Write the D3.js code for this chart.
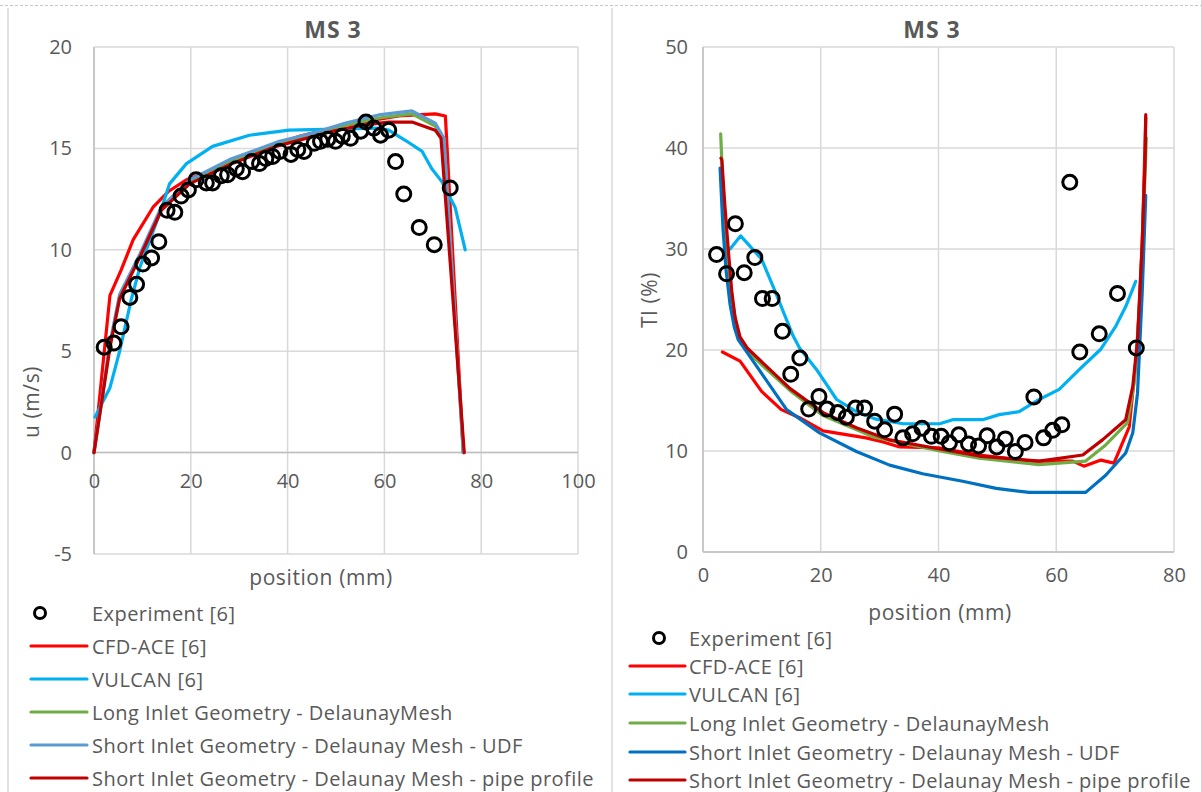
<!DOCTYPE html>
<html>
<head>
<meta charset="utf-8">
<script src="https://cdn.jsdelivr.net/npm/d3@7"></script>
<style>
  html, body { margin: 0; padding: 0; background: #fff; }
  svg { display: block; }
  text { font-family: "Open Sans", "Liberation Sans", sans-serif; fill: #595959; }
</style>
</head>
<body>
<svg id="chart" width="1201" height="792"></svg>
<script>
// ---------------- DATA ----------------
const seriesNames = [
  "Experiment [6]",
  "CFD-ACE [6]",
  "VULCAN [6]",
  "Long Inlet Geometry - DelaunayMesh",
  "Short Inlet Geometry - Delaunay Mesh - UDF",
  "Short Inlet Geometry - Delaunay Mesh - pipe profile"
];
const chartTitle = "MS 3";
const leftXTicks = [0, 20, 40, 60, 80, 100];
const leftYTicks = [-5, 0, 5, 10, 15, 20];
const rightXTicks = [0, 20, 40, 60, 80];
const rightYTicks = [0, 10, 20, 30, 40, 50];

// Left chart: u (m/s) vs position (mm)
const uExperiment = [
  [2.1,5.2],[4.1,5.4],[5.6,6.2],[7.4,7.65],[8.8,8.3],[10.1,9.3],[11.9,9.6],[13.4,10.4],
  [15.1,11.95],[16.7,11.85],[18.0,12.65],[19.5,12.95],[21.1,13.45],[23.2,13.3],[24.5,13.3],
  [26.3,13.65],[27.6,13.7],[29.4,14.0],[30.7,13.85],[32.6,14.35],[34.2,14.25],[35.5,14.5],
  [36.9,14.6],[38.4,14.85],[40.7,14.7],[42.1,14.95],[43.4,14.85],[45.5,15.25],[46.8,15.35],
  [48.3,15.45],[49.9,15.35],[51.3,15.6],[53.0,15.5],[55.1,15.85],[56.2,16.3],[57.8,16.0],
  [59.2,15.65],[60.9,15.9],[62.3,14.35],[64.0,12.75],[67.2,11.1],[70.3,10.25],[73.6,13.05]
];
const uCfdAce = [
  [0,0],[3.3,7.75],[5.6,9.0],[8.1,10.5],[12.2,12.1],[15.5,12.9],[19.1,13.45],[26.6,14.1],
  [34.8,14.9],[42.4,15.6],[52.7,16.2],[63,16.6],[70.5,16.7],[72.6,16.6],[76.3,0]
];
const uVulcan = [
  [0.2,1.75],[3.3,3.2],[5.3,5.0],[7.75,7.6],[9.5,9.15],[13.6,11.8],[15.6,13.25],[19.1,14.25],
  [24.5,15.1],[32.1,15.65],[40.3,15.9],[50,15.95],[58.8,16.0],[60.9,15.9],[64.3,15.4],
  [67.8,14.85],[69.8,14.0],[71.9,13.35],[74.6,12.1],[76.7,10.0]
];
const uLongInlet = [
  [0,0],[3.3,5.3],[5.3,7.7],[9.5,9.7],[13.9,12.0],[19.75,13.35],[28,14.35],[38.3,15.25],
  [45.1,15.65],[52,16.15],[58.8,16.5],[65.7,16.7],[70.5,16.1],[72.3,15.5],[76.3,0]
];
const uShortUdf = [
  [0,0],[3.3,5.4],[5.3,7.8],[9.5,9.8],[13.9,12.1],[19.75,13.45],[28,14.45],[38.3,15.35],
  [45.1,15.75],[52,16.25],[58.8,16.65],[65.7,16.85],[70.5,16.25],[72.3,15.5],[76.3,0]
];
const uShortPipe = [
  [0,0],[3.3,5.2],[5.3,7.6],[9.5,9.65],[13.9,11.95],[19.75,13.25],[28,14.2],[37.6,15.1],
  [48.6,15.8],[55.4,16.15],[60.9,16.3],[65.7,16.3],[70.5,15.9],[71.7,15.5],[76.5,0]
];

// Right chart: TI (%) vs position (mm)
const tiExperiment = [
  [2.3,29.45],[4.0,27.55],[5.5,32.5],[7.0,27.65],[8.8,29.15],[10.1,25.1],[11.75,25.1],
  [13.5,21.85],[14.9,17.6],[16.45,19.2],[17.95,14.15],[19.7,15.4],[21.05,14.15],[22.9,13.8],
  [24.35,13.35],[25.9,14.25],[27.45,14.25],[29.15,12.95],[30.85,12.1],[32.55,13.65],
  [33.95,11.3],[35.6,11.7],[37.2,12.25],[38.8,11.45],[40.45,11.45],[41.85,10.8],[43.45,11.6],
  [45.1,10.7],[46.8,10.5],[48.25,11.5],[49.9,10.4],[51.35,11.2],[53.05,9.95],[54.7,10.85],
  [56.2,15.35],[57.85,11.3],[59.4,12.05],[60.95,12.6],[62.3,36.6],[64.0,19.8],[67.3,21.6],
  [70.4,25.6],[73.6,20.2]
];
const tiCfdAce = [
  [3.3,19.8],[6.3,18.9],[9.95,15.9],[13.3,14.1],[16.4,13.3],[20.4,12.0],[27.7,11.3],
  [30.6,10.9],[33.4,10.4],[40.2,10.3],[47,9.6],[55.4,9.0],[62.8,9.0],[64.7,8.5],[67.6,9.1],
  [69.8,8.8],[72.4,12.4],[73.8,20.5],[74.6,30.5],[75.2,43.0]
];
const tiVulcan = [
  [4.6,30.0],[6.4,31.3],[9.95,29.0],[11.9,26.3],[15.3,21.4],[16.4,20.2],[19.3,18.05],
  [22.7,15.1],[26.05,13.9],[29.4,13.15],[34,12.7],[40.2,12.7],[42.4,13.1],[47.5,13.1],
  [50.3,13.6],[53.7,13.9],[57.1,15.1],[60.5,16.1],[63.9,18.05],[67.6,20.1],[70.1,22.35],
  [71.8,24.3],[73.5,26.8]
];
const tiLongInlet = [
  [3.0,41.4],[3.4,36],[3.8,31],[4.4,28],[4.9,25.2],[5.5,23.0],[6.3,21.1],[7.5,19.9],
  [10.2,18.4],[14.75,16.0],[20.4,13.5],[28.9,11.4],[40.2,10.0],[46.9,9.3],[57.1,8.65],
  [65.0,9.0],[68.4,10.6],[72.1,12.8],[73.3,17],[74.2,25],[74.8,33],[75.3,41]
];
const tiShortUdf = [
  [2.9,38.0],[3.4,32],[3.9,28],[4.6,24.5],[5.3,22.3],[6.0,21.0],[9.1,18.4],[14.2,14.1],
  [19.8,11.8],[26.05,9.95],[31.7,8.6],[37.3,7.75],[44.1,7.0],[49.8,6.3],[55.4,5.9],
  [65.0,5.9],[68.4,7.6],[71.8,9.8],[73.0,11.8],[73.8,15.7],[74.6,25.7],[75.2,35.3]
];
const tiShortPipe = [
  [3.05,39.0],[3.2,38.8],[3.73,34.2],[4.3,29.9],[4.87,25.9],[5.43,23.3],[6.28,21.3],
  [7.5,20.2],[10.2,18.7],[14.75,16.2],[20.4,13.8],[26.05,12.3],[31.7,11.1],[40.2,10.2],
  [46.9,9.5],[57.1,9.0],[64.5,9.6],[67.85,11.1],[71.8,13.1],[73.0,16.4],[73.8,21.0],
  [74.6,30.6],[75.1,38.9],[75.2,43.3]
];

// ---------------- DRAWING ----------------
const svg = d3.select("#chart");
const gridColor = "#d9d9d9";
const axisColor = "#bfbfbf";

// panel frame
svg.append("line").attr("x1", 0).attr("x2", 1201).attr("y1", 5.5).attr("y2", 5.5)
  .attr("stroke", "#c8c8c8").attr("stroke-width", 1).attr("stroke-dasharray", "3,2");
[8, 612].forEach(x => {
  svg.append("line").attr("x1", x).attr("x2", x).attr("y1", 8).attr("y2", 792)
    .attr("stroke", "#d9d9d9").attr("stroke-width", 1.5);
});

function drawPanel(cfg) {
  const g = svg.append("g");
  const x = d3.scaleLinear().domain(cfg.xDomain).range(cfg.xRange);
  const y = d3.scaleLinear().domain(cfg.yDomain).range(cfg.yRange);

  // grid
  g.append("g").selectAll("line").data(cfg.xTicks).join("line")
    .attr("x1", d => x(d)).attr("x2", d => x(d))
    .attr("y1", y(cfg.yDomain[0])).attr("y2", y(cfg.yDomain[1]))
    .attr("stroke", gridColor).attr("stroke-width", 1.5);
  g.append("g").selectAll("line").data(cfg.yTicks).join("line")
    .attr("x1", x(cfg.xDomain[0])).attr("x2", x(cfg.xDomain[1]))
    .attr("y1", d => y(d)).attr("y2", d => y(d))
    .attr("stroke", gridColor).attr("stroke-width", 1.5);
  // axis lines
  g.append("line").attr("x1", x(0)).attr("x2", x(0))
    .attr("y1", y(cfg.yDomain[0])).attr("y2", y(cfg.yDomain[1]))
    .attr("stroke", axisColor).attr("stroke-width", 1.5);
  g.append("line").attr("x1", x(cfg.xDomain[0])).attr("x2", x(cfg.xDomain[1]))
    .attr("y1", y(0)).attr("y2", y(0))
    .attr("stroke", axisColor).attr("stroke-width", 1.5);

  // tick labels via d3 axes
  const fmt = d => String(d);
  const yAx = g.append("g").attr("transform", `translate(${x(cfg.xDomain[0])},0)`)
    .call(d3.axisLeft(y).tickValues(cfg.yTicks).tickSize(0).tickPadding(cfg.yPad).tickFormat(fmt));
  const xAx = g.append("g").attr("transform", `translate(0,${y(cfg.xAxisAt)})`)
    .call(d3.axisBottom(x).tickValues(cfg.xTicks).tickSize(0).tickPadding(cfg.xPad).tickFormat(fmt));
  [yAx, xAx].forEach(a => {
    a.select(".domain").remove();
    a.selectAll("text").attr("font-size", 20).attr("fill", "#595959")
      .attr("font-family", "\"Open Sans\", sans-serif");
  });

  // title
  g.append("text").attr("x", cfg.titleX).attr("y", 38).attr("text-anchor", "middle")
    .attr("font-size", 23).attr("font-weight", "bold").attr("letter-spacing", 1).text(chartTitle);
  // axis titles
  g.append("text").attr("x", cfg.xTitle[0]).attr("y", cfg.xTitle[1]).attr("text-anchor", "middle")
    .attr("dominant-baseline", "central").attr("font-size", 21).attr("letter-spacing", 0.6)
    .text("position (mm)");
  g.append("text").attr("transform", `translate(${cfg.yTitle[0]},${cfg.yTitle[1]}) rotate(-90)`)
    .attr("text-anchor", "middle").attr("dominant-baseline", "central")
    .attr("font-size", 21).attr("letter-spacing", 0.6).text(cfg.yLabel);

  // lines
  const line = d3.line().x(d => x(d[0])).y(d => y(d[1]));
  cfg.lines.forEach(s => {
    g.append("path").datum(s.data).attr("d", line).attr("fill", "none")
      .attr("stroke", s.color).attr("stroke-width", 3.2)
      .attr("stroke-linejoin", "round").attr("stroke-linecap", "round");
  });
  // experiment markers
  g.append("g").selectAll("circle").data(cfg.exp).join("circle")
    .attr("cx", d => x(d[0])).attr("cy", d => y(d[1])).attr("r", 7)
    .attr("fill", "none").attr("stroke", "#000").attr("stroke-width", 3);

  // legend
  const lg = g.append("g");
  cfg.legendY.forEach((ly, i) => {
    if (i === 0) {
      lg.append("circle").attr("cx", cfg.legendMarkX).attr("cy", ly).attr("r", 5.5)
        .attr("fill", "none").attr("stroke", "#000").attr("stroke-width", 3);
    } else {
      lg.append("line").attr("x1", cfg.legendLine[0]).attr("x2", cfg.legendLine[1])
        .attr("y1", ly).attr("y2", ly).attr("stroke", cfg.lines[i - 1].color)
        .attr("stroke-width", 3.2).attr("stroke-linecap", "round");
    }
    lg.append("text").attr("x", cfg.legendTextX).attr("y", ly)
      .attr("dominant-baseline", "central").attr("font-size", 20).attr("letter-spacing", 0.45)
      .text(seriesNames[i]);
  });
}

drawPanel({
  xDomain: [0, 100], xRange: [94, 578],
  yDomain: [-5, 20], yRange: [554, 47],
  xTicks: leftXTicks, yTicks: leftYTicks,
  xAxisAt: 0, xPad: 21, yPad: 22,
  titleX: 333, xTitle: [321, 577], yTitle: [31, 402], yLabel: "u (m/s)",
  exp: uExperiment,
  lines: [
    {data: uCfdAce, color: "#ff0000"},
    {data: uVulcan, color: "#00b0f0"},
    {data: uLongInlet, color: "#70ad47"},
    {data: uShortUdf, color: "#5b9bd5"},
    {data: uShortPipe, color: "#c00000"}
  ],
  legendY: [613, 646, 679, 712, 745, 778],
  legendMarkX: 40, legendLine: [31, 87], legendTextX: 92
});

drawPanel({
  xDomain: [0, 80], xRange: [703, 1174],
  yDomain: [0, 50], yRange: [552, 47],
  xTicks: rightXTicks, yTicks: rightYTicks,
  xAxisAt: 0, xPad: 16, yPad: 15,
  titleX: 932, xTitle: [940, 612], yTitle: [649, 300], yLabel: "TI (%)",
  exp: tiExperiment,
  lines: [
    {data: tiCfdAce, color: "#ff0000"},
    {data: tiVulcan, color: "#00b0f0"},
    {data: tiLongInlet, color: "#70ad47"},
    {data: tiShortUdf, color: "#0070c0"},
    {data: tiShortPipe, color: "#c00000"}
  ],
  legendY: [638, 666, 694, 723, 752, 780],
  legendMarkX: 659, legendLine: [630, 685], legendTextX: 689
});
</script>
</body>
</html>
